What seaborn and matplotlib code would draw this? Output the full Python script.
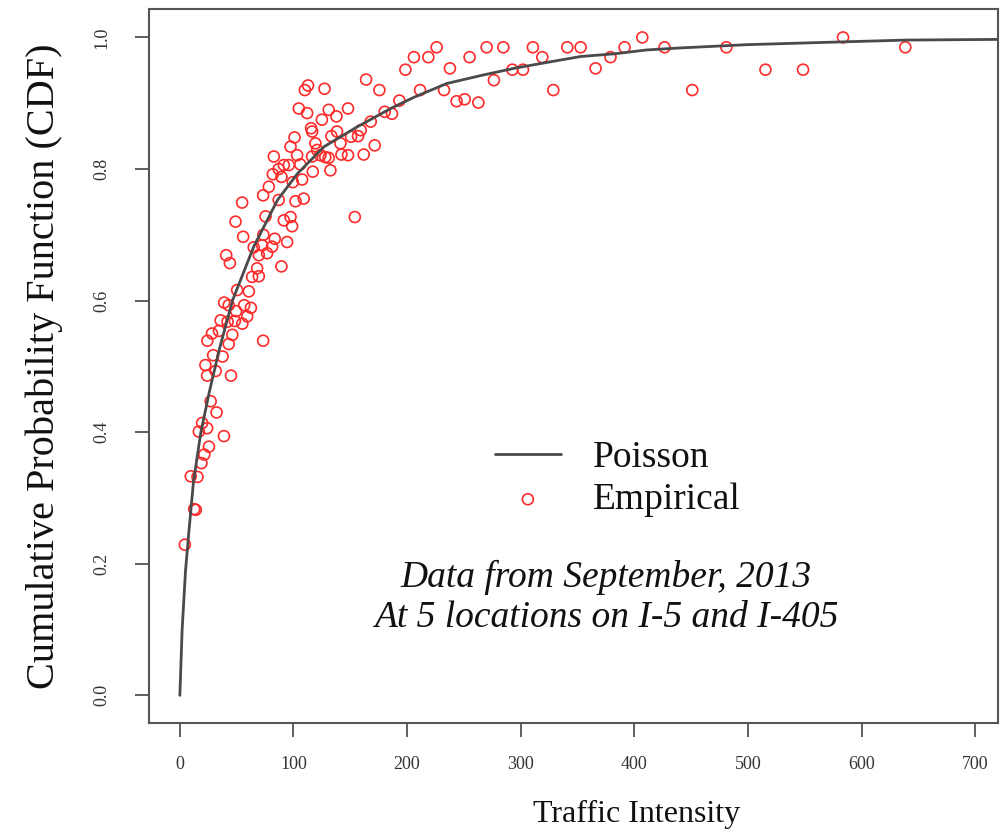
import numpy as np
import pandas as pd
import seaborn as sns
import matplotlib.pyplot as plt

# fitted Poisson CDF
poisson_x = [0, 2, 5, 8, 12, 18.5, 25.8, 34.6, 46.3, 65, 86, 103.5, 127, 156,
             185.6, 206, 235, 264.7, 294, 323, 352.7, 382, 411, 440, 499, 578,
             640, 720]
poisson_y = [0, 0.10, 0.19, 0.25, 0.325, 0.40, 0.46, 0.525, 0.60, 0.682, 0.753,
             0.793, 0.834, 0.864, 0.892, 0.909, 0.930, 0.942, 0.953, 0.962,
             0.971, 0.975, 0.981, 0.984, 0.989, 0.993, 0.996, 0.997]

# empirical points
emp_x = [4.4, 9.6, 15.5, 12.6, 14.0, 19.0, 21.5, 25.6, 38.8, 16.7, 24.0, 19.6,
         32.3, 27.1, 24.0, 45.0, 31.5, 22.5, 29.3, 37.6, 24.2, 28.3, 34.4, 43.0,
         46.2, 73.3, 35.9, 42.0, 48.4, 55.0, 59.3, 62.5, 56.6, 49.5, 39.0, 43.0,
         50.4, 60.7, 63.6, 69.5, 68.0, 89.4, 40.8, 44.0, 65.0, 72.4, 81.2, 94.4,
         69.5, 76.8, 73.5, 83.5, 55.7, 49.0, 54.8, 75.4, 91.5, 97.4, 98.8, 87.0,
         101.8, 109.0, 73.3, 78.3, 81.8, 87.0, 91.5, 95.9, 82.7, 99.4, 107.6,
         89.4, 106.0, 103.2, 97.4, 100.9, 117.0, 132.5, 116.4, 123.7, 128.0,
         131.0, 119.3, 120.8, 116.4, 115.5, 125.0, 133.4, 138.3, 141.3, 142.2,
         148.0, 131.0, 137.8, 148.0, 150.7, 156.8, 159.2, 161.8, 168.0, 171.5,
         154.0, 104.7, 112.0, 110.0, 112.8, 127.3, 163.9, 175.6, 180.3, 186.7,
         193.2, 198.5, 206.0, 211.4, 218.7, 226.0, 237.7, 232.5, 243.6, 250.7,
         255.0, 262.7, 270.0, 276.4, 284.7, 292.6, 302.0, 310.7, 319.0, 328.7,
         341.0, 352.7, 365.9, 379.0, 391.4, 407.0, 426.6, 451.0, 481.0, 515.4,
         548.5, 583.7, 638.5]
emp_y = [0.229, 0.333, 0.332, 0.283, 0.282, 0.353, 0.366, 0.378, 0.394, 0.401,
         0.406, 0.414, 0.430, 0.447, 0.486, 0.486, 0.493, 0.502, 0.517, 0.515,
         0.539, 0.550, 0.554, 0.534, 0.548, 0.539, 0.570, 0.568, 0.569, 0.565,
         0.576, 0.589, 0.593, 0.584, 0.597, 0.593, 0.616, 0.614, 0.636, 0.637,
         0.649, 0.652, 0.669, 0.657, 0.681, 0.684, 0.682, 0.689, 0.669, 0.672,
         0.700, 0.694, 0.697, 0.720, 0.749, 0.728, 0.722, 0.727, 0.713, 0.753,
         0.751, 0.755, 0.760, 0.773, 0.792, 0.800, 0.806, 0.806, 0.819, 0.780,
         0.784, 0.788, 0.807, 0.821, 0.834, 0.848, 0.796, 0.798, 0.819, 0.821,
         0.818, 0.817, 0.839, 0.829, 0.857, 0.862, 0.875, 0.850, 0.857, 0.839,
         0.822, 0.821, 0.890, 0.880, 0.892, 0.849, 0.850, 0.859, 0.822, 0.872,
         0.836, 0.727, 0.892, 0.885, 0.920, 0.927, 0.922, 0.936, 0.920, 0.887,
         0.884, 0.904, 0.951, 0.970, 0.920, 0.970, 0.985, 0.953, 0.920, 0.903,
         0.906, 0.970, 0.901, 0.985, 0.935, 0.985, 0.951, 0.951, 0.985, 0.970,
         0.920, 0.985, 0.985, 0.953, 0.970, 0.985, 1.000, 0.985, 0.920, 0.985,
         0.951, 0.951, 1.000, 0.985]

x_ticks = [0, 100, 200, 300, 400, 500, 600, 700]
y_ticks = [0.0, 0.2, 0.4, 0.6, 0.8, 1.0]

sns.set_style("ticks")
plt.rcParams['font.family'] = ['Liberation Serif', 'DejaVu Serif']
plt.rcParams['text.color'] = '#111111'
plt.rcParams['axes.labelcolor'] = '#111111'

fig = plt.figure(figsize=(10.08, 8.31), dpi=100)
ax = fig.add_axes([0.148, 0.130, 0.842, 0.859])

curve = pd.DataFrame({"x": poisson_x, "y": poisson_y})
points = pd.DataFrame({"x": emp_x, "y": emp_y})

sns.lineplot(data=curve, x="x", y="y", ax=ax, color="#4a4a4a", linewidth=2,
             label="Poisson")
sns.scatterplot(data=points, x="x", y="y", ax=ax, marker="o",
                facecolor="none", edgecolor="#ff2a2a", linewidth=1.2, s=62,
                label="Empirical")

ax.set_xlim(-27, 720)
ax.set_ylim(-0.042, 1.043)
ax.set_xticks(x_ticks)
ax.set_yticks(y_ticks)
ax.set_xticklabels([str(t) for t in x_ticks])
ax.set_yticklabels([f"{t:.1f}" for t in y_ticks], rotation=90, va="center")
ax.tick_params(axis="both", length=10, width=1.2, color="#444444",
               labelsize=13, labelcolor="#333333")
ax.tick_params(axis="x", pad=14)
ax.tick_params(axis="y", pad=18)
for s in ax.spines.values():
    s.set_color("#555555")
    s.set_linewidth(1.5)

ax.set_xlabel("Traffic Intensity", fontsize=23)
ax.xaxis.set_label_coords(0.574, -0.108)
ax.set_ylabel("Cumulative Probability Function (CDF)", fontsize=29)
ax.yaxis.set_label_coords(-0.101, 0.5)

leg = ax.legend(loc="center left", bbox_to_anchor=(0.4075, 0.342),
                frameon=False, fontsize=27, handlelength=1.75,
                handletextpad=0.85, labelspacing=0.2, borderpad=0,
                borderaxespad=0)

ax.text(0.538, 0.176, "Data from September, 2013\nAt 5 locations on I-5 and I-405",
        transform=ax.transAxes, ha="center", va="center", fontsize=27,
        style="italic", linespacing=1.2)

fig.savefig("out.png", dpi=100)
